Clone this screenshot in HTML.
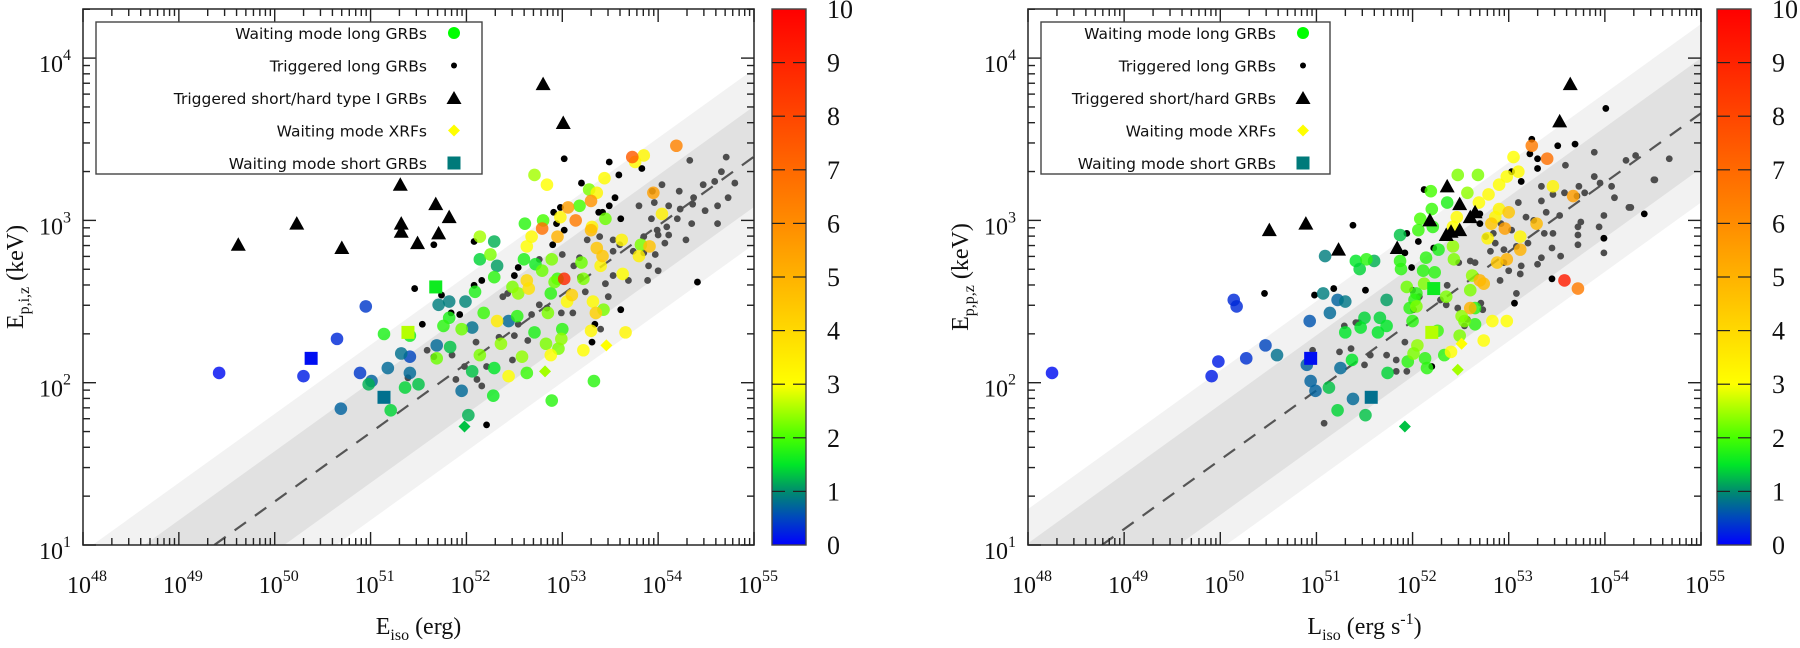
<!DOCTYPE html>
<html><head><meta charset="utf-8">
<style>
html,body{margin:0;padding:0;background:#fff;width:1800px;height:648px;overflow:hidden;}
svg{display:block;overflow:hidden;}
.tk{font-family:"Liberation Serif",serif;font-size:24px;fill:#111;}
.cbt{font-size:26px;}
.sup{font-size:16px;}
.lg{font-family:"DejaVu Sans","Liberation Sans",sans-serif;font-size:15.5px;fill:#111;}
</style></head>
<body>
<svg id="root" width="1800" height="648" viewBox="0 0 1800 648" xmlns="http://www.w3.org/2000/svg">
<defs>
<linearGradient id="cmap" x1="0" y1="1" x2="0" y2="0">
<stop offset="0" stop-color="rgb(0,0,255)"/>
<stop offset="0.05" stop-color="rgb(0,70,190)"/>
<stop offset="0.1" stop-color="rgb(0,140,110)"/>
<stop offset="0.15" stop-color="rgb(0,230,40)"/>
<stop offset="0.2" stop-color="rgb(70,255,0)"/>
<stop offset="0.3" stop-color="rgb(255,255,0)"/>
<stop offset="0.6" stop-color="rgb(255,140,0)"/>
<stop offset="1" stop-color="rgb(255,0,0)"/>
</linearGradient>
<clipPath id="clipL"><rect x="83" y="9" width="671" height="536"/></clipPath>
<clipPath id="clipR"><rect x="1028" y="9" width="673" height="536"/></clipPath>
</defs>
</svg>
<script>
// ---------- LEFT PANEL DATA (log10 Eiso, log10 Ep, z) ----------
const leftTriangles=[[49.62,2.85],[50.23,2.98],[50.70,2.83],[51.31,3.22],[51.68,3.10],[51.82,3.02],[51.32,2.98],[51.32,2.93],[51.49,2.86],[51.71,2.92],[53.01,3.60],[52.80,3.84]];
const leftSquares=[[50.38,2.15,0.1],[51.68,2.59,1.6],[51.39,2.31,2.6],[51.14,1.91,0.8]];
const leftDiamonds=[[53.46,2.23,3.0],[52.82,2.07,2.5],[51.98,1.73,1.3]];
const leftCircles=[[49.42,2.06,0.1],[50.30,2.04,0.2],[50.65,2.27,0.3],[50.95,2.47,0.4],[50.89,2.06,0.4],[51.41,2.16,0.5],
[50.69,1.84,0.7],[51.01,2.01,0.7],[51.18,2.09,0.75],[51.32,2.18,0.8],[51.41,2.06,0.75],[51.69,2.23,0.75],[51.95,1.95,0.75],[52.44,2.38,0.75],[51.71,2.48,0.9],[51.82,2.50,0.9],[51.99,2.50,0.95],[52.06,2.34,0.8],
[50.98,1.99,1.2],[51.21,1.83,1.4],[51.36,1.97,1.4],[51.50,1.99,1.3],[51.83,2.22,1.3],[52.06,2.07,1.3],[52.02,1.80,1.2],[52.29,2.87,1.2],[52.32,2.72,1.1],[52.14,2.76,1.4],[52.29,2.09,1.5],[52.28,1.92,1.6],
[51.14,2.30,1.7],[51.41,2.29,1.6],[51.82,2.40,1.7],[51.76,2.35,1.8],[52.09,2.56,1.7],[52.18,2.43,1.9],[52.29,2.65,1.8],[52.61,2.98,1.8],[52.60,2.76,1.7],[52.72,2.73,1.6],[52.63,2.06,1.9],[52.89,1.89,1.8],[53.33,2.01,1.8],[53.18,3.09,2.0],[52.80,3.00,2.0],[52.95,2.64,1.9],[52.88,2.55,1.8],[52.71,2.31,1.7],[53.00,2.33,1.8],[52.53,2.41,1.8],
[52.14,2.90,2.5],[52.25,2.79,2.3],[52.71,3.28,2.5],[53.28,3.19,2.3],[53.45,3.01,2.2],[51.69,2.15,2.2],[51.95,2.33,2.2],[52.14,2.17,2.3],[52.36,2.24,2.4],[52.58,2.16,2.4],[52.83,2.24,2.3],[52.96,2.21,2.3],[52.99,2.27,2.4],[52.85,2.43,2.3],[53.22,2.64,2.3],[53.43,2.45,2.3],[53.82,2.85,2.3],[53.20,2.74,2.2],[52.48,2.59,2.3],[52.54,2.55,2.4],[52.79,2.69,2.2],[52.89,2.76,2.3],[52.92,2.62,2.2],
[52.84,3.22,3.0],[53.44,3.26,3.1],[53.36,3.17,3.2],[53.76,3.36,3.1],[53.85,3.40,3.2],[52.68,2.90,3.1],[52.63,2.84,3.0],[52.88,2.17,3.0],[53.22,2.20,3.0],[53.30,2.32,3.2],[53.66,2.31,3.2],[53.63,2.67,3.0],[52.44,2.04,3.0],[52.98,3.02,3.2],[53.32,2.50,3.1],[53.05,2.50,3.1],[53.62,2.88,3.3],[53.31,2.96,3.3],[53.40,2.72,3.2],[53.80,2.78,3.4],[54.04,3.04,3.4],
[52.32,2.38,3.5],[52.63,2.63,4.0],[52.65,2.58,3.8],[53.10,2.54,4.2],[53.35,2.43,4.2],[53.36,2.83,4.5],[53.42,2.78,4.5],[53.30,2.94,4.8],[53.91,2.84,4.6],[52.95,2.90,5.0],[53.06,3.08,5.5],[53.30,3.12,5.8],[53.95,3.17,5.5],[53.14,3.00,6.5],[52.79,2.95,6.8],[54.19,3.46,6.3],[53.73,3.39,7.4],[53.02,2.64,8.8]];
const leftBlackDots=[[53.02,3.38],[53.49,3.36],[53.83,3.32],[53.59,3.28],[53.20,3.23],[53.55,3.14],[53.49,3.09],[53.38,3.05],[52.98,3.08],[52.91,3.05],[52.94,2.98],[53.02,2.94],[51.66,2.85],[52.08,2.87],[51.46,2.58],[52.08,2.60],[52.16,2.63],[51.74,2.54],[51.84,2.43],[51.93,2.42],[51.54,2.36],[52.54,2.71],[52.50,2.66],[54.41,2.62],[53.31,2.25],[53.61,2.45],[53.34,2.36],[52.21,1.74],[52.90,2.85],[53.61,3.01],[53.42,3.05]];
const leftGrayDots=[[54.33,3.37],[54.71,3.39],[54.66,3.30],[54.59,3.24],[54.80,3.23],[54.47,3.22],[54.04,3.22],[54.22,3.18],[53.94,3.18],[53.80,3.09],[53.96,3.11],[54.11,3.09],[54.23,3.07],[54.36,3.10],[54.37,3.14],[54.62,3.09],[54.73,3.14],[54.49,3.06],[53.93,3.01],[54.20,3.01],[54.09,2.96],[53.99,2.94],[53.85,2.90],[53.85,2.80],[53.74,2.81],[53.60,2.85],[53.53,2.88],[53.53,2.81],[54.00,2.91],[54.11,2.91],[54.29,2.88],[54.07,2.86],[53.97,2.79],[54.35,2.98],[54.62,2.98],[53.90,2.72],[54.00,2.69],[53.89,2.63],[53.69,2.63],[53.53,2.66],[53.45,2.61],[53.48,2.53],[53.24,2.56],[53.19,2.65],[53.18,2.77],[53.26,2.88],[53.39,2.90],[53.11,2.43],[52.99,2.43],[52.84,2.46],[52.76,2.48],[52.68,2.42],[52.54,2.36],[52.43,2.55],[52.38,2.53],[52.64,2.26],[52.50,2.29],[52.48,2.14],[52.34,2.28],[52.21,2.10],[52.11,2.02],[52.16,1.98],[52.10,2.25],[51.98,2.10],[51.89,2.02],[51.85,2.17],[51.66,2.16],[51.59,2.20],[51.39,2.03],[52.76,2.76],[53.00,2.79],[53.12,2.72],[53.40,2.33]];
// ---------- RIGHT PANEL DATA (log10 Liso, log10 Ep, z) ----------
const rightTriangles=[[50.51,2.94],[50.89,2.98],[51.23,2.82],[51.84,2.83],[52.18,3.00],[52.36,3.21],[52.49,3.10],[52.35,2.91],[52.40,2.93],[52.49,2.94],[52.60,3.02],[52.65,3.05],[53.53,3.61],[53.64,3.84]];
const rightSquares=[[50.94,2.15,0.1],[51.57,1.91,0.8],[52.22,2.58,1.6],[52.20,2.31,2.6]];
const rightDiamonds=[[52.51,2.24,3.0],[52.47,2.08,2.5],[51.92,1.73,1.3]];
const rightCircles=[[48.25,2.06,0.1],[49.91,2.04,0.2],[49.98,2.13,0.2],[50.14,2.51,0.3],[50.17,2.47,0.3],[50.27,2.15,0.35],[50.47,2.23,0.5],[50.59,2.17,0.8],[50.93,2.38,0.6],[51.14,2.43,0.75],[51.22,2.51,0.7],[51.30,2.50,0.85],[51.09,2.78,0.9],[51.07,2.55,0.9],
[50.90,2.11,0.7],[50.94,2.01,0.7],[50.99,1.95,0.7],[51.25,2.09,0.75],[51.38,1.90,0.75],[51.73,2.51,1.1],
[51.13,1.97,1.3],[51.22,1.83,1.4],[51.51,1.80,1.3],[51.37,2.14,1.5],[51.30,2.31,1.5],[51.50,2.40,1.4],[51.66,2.40,1.4],[51.64,2.31,1.5],[51.73,2.35,1.5],[51.74,2.06,1.4],[51.46,2.34,1.5],[51.60,2.75,1.2],[51.41,2.75,1.5],[51.45,2.70,1.4],[51.87,2.91,1.3],
[51.52,2.76,1.8],[51.87,2.75,1.8],[51.88,2.70,1.8],[52.04,2.55,1.8],[51.97,2.46,1.8],[52.02,2.51,1.8],[51.95,2.13,1.8],[52.13,2.15,1.8],[52.15,2.09,1.8],[52.33,2.17,1.8],[52.11,2.69,1.8],[52.23,2.68,1.8],[52.27,2.82,1.7],[52.14,2.77,1.8],[52.36,3.11,1.7],[52.19,3.18,2.0],[52.20,3.07,1.9],[52.08,3.01,2.0],[52.06,2.94,1.9],[52.21,2.96,1.8],[52.65,2.36,1.8],[52.65,2.46,1.8],[52.00,2.38,1.8],[52.26,2.32,1.9],
[52.47,3.28,2.3],[52.68,3.28,2.3],[52.57,3.17,2.4],[52.35,2.53,2.3],[51.94,2.59,2.2],[52.12,2.61,2.3],[52.04,2.47,2.3],[52.05,2.23,2.4],[52.01,2.18,2.3],[52.51,2.41,2.4],[52.49,2.29,2.3],[52.43,2.76,2.3],[52.42,2.84,2.4],[52.60,2.57,2.3],[52.62,2.66,2.4],[52.54,2.38,2.3],
[53.05,3.39,3.0],[53.10,3.30,3.1],[52.98,3.27,3.0],[52.90,3.22,3.0],[52.79,3.16,3.1],[52.69,3.11,3.0],[52.90,3.07,3.2],[52.83,2.38,3.0],[52.98,2.38,3.0],[52.74,2.26,3.0],[52.40,2.19,3.0],[52.46,3.02,3.1],[52.42,2.96,3.0],[53.46,3.21,3.3],[53.12,2.90,3.2],[52.78,2.89,3.3],[52.86,3.02,3.2],
[52.82,2.98,4.5],[53.00,3.05,4.5],[53.29,2.98,4.8],[53.12,2.82,5.0],[52.98,2.76,5.0],[52.88,2.74,4.5],[52.70,2.63,5.0],[52.74,2.61,4.8],[53.67,3.15,5.5],[52.60,2.46,5.0],[52.96,2.95,5.5],[53.24,3.46,6.5],[53.40,3.38,6.8],[53.58,2.63,9.2],[53.72,2.58,6.5]];
const rightBlackDots=[[50.46,2.55],[50.98,2.54],[51.18,2.58],[51.51,2.57],[51.38,2.97],[51.94,2.92],[52.06,2.87],[52.12,3.19],[52.22,2.83],[51.92,2.80],[51.99,2.71],[52.20,2.10],[53.03,3.30],[53.13,3.24],[53.24,3.50],[53.22,3.41],[53.30,3.38],[53.30,3.32],[53.51,3.46],[53.69,3.47],[54.01,3.69],[54.41,3.04],[53.45,2.64],[53.06,2.49],[52.70,2.98],[52.70,3.04],[53.99,2.89]];
const rightGrayDots=[[53.89,3.42],[53.59,3.34],[53.89,3.27],[54.32,3.40],[54.22,3.37],[54.67,3.38],[54.52,3.25],[54.07,3.21],[53.95,3.23],[53.73,3.21],[53.34,3.21],[53.46,3.16],[53.71,3.15],[53.79,3.17],[54.10,3.14],[54.27,3.08],[53.99,3.03],[53.75,2.99],[53.94,2.96],[53.72,2.91],[53.72,2.85],[53.99,2.89],[53.58,3.17],[53.53,3.03],[53.39,3.05],[53.34,3.12],[53.10,3.11],[53.18,3.02],[53.26,3.00],[53.37,2.92],[53.46,2.92],[53.45,2.83],[53.54,2.78],[53.34,2.77],[53.30,2.73],[53.20,2.86],[53.08,2.84],[53.03,2.94],[52.92,2.98],[52.86,2.86],[52.84,2.92],[52.76,2.90],[52.81,2.81],[52.95,2.82],[52.95,2.74],[53.00,2.69],[53.12,2.67],[53.13,2.72],[52.91,2.63],[53.08,2.55],[52.71,2.49],[52.73,2.45],[52.47,2.46],[52.48,2.74],[52.60,2.75],[52.65,2.74],[52.36,2.60],[52.29,2.51],[52.35,2.48],[52.54,2.35],[52.57,2.39],[52.01,2.45],[52.00,2.57],[52.07,2.53],[51.92,2.25],[51.94,2.07],[51.83,2.07],[51.83,2.14],[51.73,2.17],[51.56,2.17],[51.50,2.11],[51.44,2.37],[51.41,2.37],[51.29,2.35],[51.24,2.19],[51.36,2.21],[50.96,2.20],[53.99,2.80],[53.72,2.96],[51.08,1.75],[54.51,3.25],[54.25,3.08]];
// Correlation fits: [slope, x at Ep=10 keV, 1-sigma half width, 2-sigma half width] (in dex)
const leftFit=[0.425,49.37,0.31,0.54];
const rightFit=[0.427,48.77,0.34,0.55];
const xTickDecades=[48,49,50,51,52,53,54,55];
const yTickDecades=[1,2,3,4];
const cbarTicks=[0,1,2,3,4,5,6,7,8,9,10];

const NS='http://www.w3.org/2000/svg';
const root=document.getElementById('root');
function mk(tag,attrs,parent){const e=document.createElementNS(NS,tag);for(const k in attrs)e.setAttribute(k,attrs[k]);(parent||root).appendChild(e);return e;}
const stops=[[0,[0,0,255]],[0.5,[0,70,190]],[1,[0,140,110]],[1.5,[0,230,40]],[2,[70,255,0]],[3,[255,255,0]],[6,[255,140,0]],[10,[255,0,0]]];
function cmap(z){z=Math.max(0,Math.min(10,z));for(let i=1;i<stops.length;i++){if(z<=stops[i][0]){const a=stops[i-1],b=stops[i];const t=(z-a[0])/(b[0]-a[0]);const c=a[1].map((v,j)=>Math.round(v+(b[1][j]-v)*t));return 'rgb('+c.join(',')+')';}}return 'rgb(255,0,0)';}
// Sutherland-Hodgman polygon clip to rectangle
function clipPoly(pts,x0,y0,x1,y1){
  const edges=[[p=>p[0]>=x0,(a,b)=>{const t=(x0-a[0])/(b[0]-a[0]);return [x0,a[1]+t*(b[1]-a[1])];}],
               [p=>p[0]<=x1,(a,b)=>{const t=(x1-a[0])/(b[0]-a[0]);return [x1,a[1]+t*(b[1]-a[1])];}],
               [p=>p[1]>=y0,(a,b)=>{const t=(y0-a[1])/(b[1]-a[1]);return [a[0]+t*(b[0]-a[0]),y0];}],
               [p=>p[1]<=y1,(a,b)=>{const t=(y1-a[1])/(b[1]-a[1]);return [a[0]+t*(b[0]-a[0]),y1];}]];
  let out=pts;
  edges.forEach(([inside,inter])=>{
    const inp=out;out=[];
    for(let i=0;i<inp.length;i++){const cur=inp[i],prev=inp[(i+inp.length-1)%inp.length];
      if(inside(cur)){if(!inside(prev))out.push(inter(prev,cur));out.push(cur);}
      else if(inside(prev))out.push(inter(prev,cur));}
  });
  return out;
}

function panel(P){
  const X0=P.x0,X1=P.x1,Y0=9,Y1=545;
  const xs=l=>X0+(l-48)*(X1-X0)/7;
  const ys=l=>Y1-(l-1)*162.3;
  const g=mk('g',{},root);
  
  
  const pg=mk('g',{'clip-path':'url(#'+P.clip+')'},g);
  
  
  const f=P.fit;
  const line=(l,off)=>[xs(l),ys(1+f[0]*(l-f[1])+off)];
  function band(off,color,nm){
    const poly=clipPoly([line(47,off),line(56,off),line(56,-off),line(47,-off)],X0,Y0,X1,Y1);
    const p=mk('polygon',{points:poly.map(q=>q[0].toFixed(1)+','+q[1].toFixed(1)).join(' '),fill:color},pg);
    
    
  }
  band(f[3],'#f2f2f2',P.name+'-2sigma-band');
  band(f[2],'#e1e1e1',P.name+'-1sigma-band');
  const la=Math.max(48,f[1]), lb=55;
  const a=line(la,0),b=line(lb,0);
  if(b[1]<Y0){const t=(Y0-a[1])/(b[1]-a[1]);b[0]=a[0]+t*(b[0]-a[0]);b[1]=Y0;}
  const dl=mk('line',{x1:a[0],y1:a[1],x2:b[0],y2:b[1],stroke:'#555','stroke-width':2.2,'stroke-dasharray':'14,11'},pg);
  
  
  P.gray.forEach(p=>{const c=mk('circle',{cx:xs(p[0]),cy:ys(p[1]),r:3.4,fill:'#4d4d4d'},pg);
    
    });
  P.black.forEach(p=>{const c=mk('circle',{cx:xs(p[0]),cy:ys(p[1]),r:3.4,fill:'#000'},pg);
    
    });
  P.circles.forEach(p=>{const c=mk('circle',{cx:xs(p[0]),cy:ys(p[1]),r:6.3,fill:cmap(p[2]),'fill-opacity':0.82},pg);
    
    });
  P.tri.forEach(p=>{const x=xs(p[0]),y=ys(p[1]);const t=mk('polygon',{points:(x-7.5)+','+(y+6)+' '+(x+7.5)+','+(y+6)+' '+x+','+(y-7.5),fill:'#000'},pg);
    
    });
  P.sq.forEach(p=>{const x=xs(p[0]),y=ys(p[1]);const s=mk('rect',{x:x-6.5,y:y-6.5,width:13,height:13,fill:cmap(p[2])},pg);
    
    });
  P.dia.forEach(p=>{const x=xs(p[0]),y=ys(p[1]);const d=mk('polygon',{points:x+','+(y-6)+' '+(x+6)+','+y+' '+x+','+(y+6)+' '+(x-6)+','+y,fill:cmap(p[2])},pg);
    
    });
  const fr=mk('rect',{x:X0,y:Y0,width:X1-X0,height:Y1-Y0,fill:'none',stroke:'#333','stroke-width':1.6},g);
  
  
  const tg=mk('g',{stroke:'#222','stroke-width':1.4},g);
  
  
  xTickDecades.forEach(d=>{
    const x=xs(d);
    mk('line',{x1:x,y1:Y1,x2:x,y2:Y1-13},tg);mk('line',{x1:x,y1:Y0,x2:x,y2:Y0+13},tg);
    if(d<55)for(let m=2;m<10;m++){const xm=xs(d+Math.log10(m));mk('line',{x1:xm,y1:Y1,x2:xm,y2:Y1-7},tg);mk('line',{x1:xm,y1:Y0,x2:xm,y2:Y0+7},tg);}
    const t=mk('text',{x:x+4,y:593,'text-anchor':'middle',class:'tk'},g);
    
    
    t.innerHTML='10<tspan class="sup" dy="-12">'+d+'</tspan>';
  });
  yTickDecades.forEach(d=>{
    const y=ys(d);
    mk('line',{x1:X0,y1:y,x2:X0+13,y2:y},tg);mk('line',{x1:X1,y1:y,x2:X1-13,y2:y},tg);
    for(let m=2;m<10;m++){const l=d+Math.log10(m);const ym=ys(l);if(ym<Y0)break;mk('line',{x1:X0,y1:ym,x2:X0+7,y2:ym},tg);mk('line',{x1:X1,y1:ym,x2:X1-7,y2:ym},tg);}
    const t=mk('text',{x:X0-12,y:y+14,'text-anchor':'end',class:'tk'},g);
    
    
    t.innerHTML='10<tspan class="sup" dy="-12">'+d+'</tspan>';
  });
  const xt=mk('text',{x:(X0+X1)/2,y:634,'text-anchor':'middle',class:'tk'},g);
  
  
  xt.innerHTML=P.xtitle;
  const yt=mk('text',{x:0,y:0,'text-anchor':'middle',class:'tk',transform:'translate('+(X0-60)+',277) rotate(-90)'},g);
  
  
  yt.innerHTML=P.ytitle;
  const lg=mk('g',{},g);
  
  
  const L=P.leg;
  mk('rect',{x:L.x0,y:22,width:L.x1-L.x0,height:152,fill:'#fff',stroke:'#444','stroke-width':1.4},lg);
  P.labels.forEach((s,i)=>{
    const y=33+i*32.5;
    const te=mk('text',{x:L.tx,y:y+6,'text-anchor':'end',class:'lg'},lg);
    
    
    te.textContent=s;
    const mx=L.mx;
    if(i==0)mk('circle',{cx:mx,cy:y,r:6,fill:'rgb(0,255,0)'},lg);
    if(i==1)mk('circle',{cx:mx,cy:y,r:3,fill:'#000'},lg);
    if(i==2)mk('polygon',{points:(mx-7.5)+','+(y+6)+' '+(mx+7.5)+','+(y+6)+' '+mx+','+(y-7)},lg);
    if(i==3)mk('polygon',{points:mx+','+(y-6)+' '+(mx+6)+','+y+' '+mx+','+(y+6)+' '+(mx-6)+','+y,fill:'#ffff00'},lg);
    if(i==4)mk('rect',{x:mx-6.5,y:y-6.5,width:13,height:13,fill:'#007a7a'},lg);
  });
  const cb=mk('g',{},g);
  
  
  mk('rect',{x:P.cb,y:Y0,width:34,height:Y1-Y0,fill:'url(#cmap)',stroke:'#444','stroke-width':1.4},cb);
  cbarTicks.forEach(v=>{
    const y=Y1-v*(Y1-Y0)/10;
    if(v>0&&v<10){mk('line',{x1:P.cb,y1:y,x2:P.cb+13,y2:y,stroke:'#222','stroke-width':1.2},cb);mk('line',{x1:P.cb+21,y1:y,x2:P.cb+34,y2:y,stroke:'#222','stroke-width':1.2},cb);}
    const t=mk('text',{x:P.cb+55,y:y+9,'text-anchor':'start',class:'tk cbt'},cb);
    
    
    t.textContent=v;
  });
}
panel({name:'eiso',x0:83,x1:754,clip:'clipL',fit:leftFit,gray:leftGrayDots,black:leftBlackDots,circles:leftCircles,tri:leftTriangles,sq:leftSquares,dia:leftDiamonds,
  xtitle:'E<tspan class="sup" dy="6">iso</tspan><tspan dy="-6"> (erg)</tspan>',
  ytitle:'E<tspan class="sup" dy="6">p,i,z</tspan><tspan dy="-6"> (keV)</tspan>',
  leg:{x0:96,x1:482,tx:427,mx:454},cb:772,
  labels:['Waiting mode long GRBs','Triggered long GRBs','Triggered short/hard type I GRBs','Waiting mode XRFs','Waiting mode short GRBs']});
panel({name:'liso',x0:1028,x1:1701,clip:'clipR',fit:rightFit,gray:rightGrayDots,black:rightBlackDots,circles:rightCircles,tri:rightTriangles,sq:rightSquares,dia:rightDiamonds,
  xtitle:'L<tspan class="sup" dy="6">iso</tspan><tspan dy="-6"> (erg s</tspan><tspan class="sup" dy="-10">-1</tspan><tspan dy="10">)</tspan>',
  ytitle:'E<tspan class="sup" dy="6">p,p,z</tspan><tspan dy="-6"> (keV)</tspan>',
  leg:{x0:1041,x1:1330,tx:1276,mx:1303},cb:1717,
  labels:['Waiting mode long GRBs','Triggered long GRBs','Triggered short/hard GRBs','Waiting mode XRFs','Waiting mode short GRBs']});
</script>
</body></html>
